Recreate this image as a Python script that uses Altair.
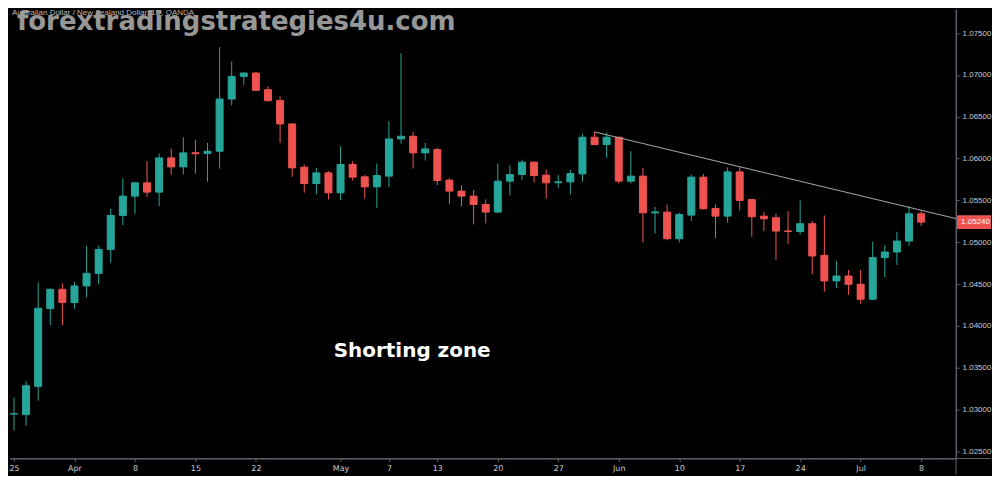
import json
import altair as alt
import pandas as pd

# ---- data (AUD/NZD daily, 25 Mar - 8 Jul) ----
opens = [1.02945, 1.02938, 1.03276, 1.04206, 1.04437, 1.04278, 1.04477, 1.04628, 1.04914, 1.05320,
         1.05551, 1.05710, 1.05599, 1.06008, 1.05901, 1.06070, 1.06062, 1.06088, 1.06712, 1.06983,
         1.07023, 1.06824, 1.06696, 1.06414, 1.05897, 1.05702, 1.05829, 1.05591, 1.05929, 1.05782,
         1.05662, 1.05790, 1.06235, 1.06267, 1.06068, 1.06108, 1.05742, 1.05611, 1.05551, 1.05451,
         1.05360, 1.05730, 1.05809, 1.05957, 1.05802, 1.05712, 1.05722, 1.05817, 1.06255, 1.06167,
         1.06255, 1.05730, 1.05790, 1.05350, 1.05360, 1.05042, 1.05324, 1.05778, 1.05404, 1.05312,
         1.05841, 1.05510, 1.05312, 1.05292, 1.05135, 1.05129, 1.05221, 1.04843, 1.04537, 1.04596,
         1.04497, 1.04318, 1.04815, 1.04883, 1.05014, 1.05340]
highs = [1.03144, 1.03335, 1.04517, 1.04445, 1.04509, 1.04525, 1.04954, 1.04954, 1.05400, 1.05762,
         1.05720, 1.05969, 1.06060, 1.06120, 1.06255, 1.06227, 1.06187, 1.07333, 1.07162, 1.07030,
         1.07035, 1.06864, 1.06744, 1.06420, 1.05929, 1.05889, 1.05849, 1.06148, 1.05969, 1.05802,
         1.05941, 1.06446, 1.07261, 1.06319, 1.06187, 1.06128, 1.05770, 1.05682, 1.05623, 1.05511,
         1.05941, 1.05917, 1.05988, 1.05965, 1.05869, 1.05802, 1.05869, 1.06295, 1.06319, 1.06307,
         1.06262, 1.06088, 1.05889, 1.05420, 1.05451, 1.05352, 1.05809, 1.05817, 1.05451, 1.05897,
         1.05897, 1.05510, 1.05364, 1.05340, 1.05372, 1.05499, 1.05253, 1.05320, 1.04775, 1.04668,
         1.04668, 1.05006, 1.04966, 1.05125, 1.05432, 1.05372]
lows = [1.02747, 1.02806, 1.03105, 1.04008, 1.04008, 1.04206, 1.04338, 1.04497, 1.04755, 1.05205,
        1.05340, 1.05543, 1.05432, 1.05809, 1.05809, 1.05821, 1.05722, 1.05881, 1.06637, 1.06883,
        1.06810, 1.06684, 1.06187, 1.05782, 1.05591, 1.05571, 1.05511, 1.05503, 1.05738, 1.05519,
        1.05412, 1.05658, 1.06179, 1.05881, 1.05977, 1.05682, 1.05459, 1.05432, 1.05213, 1.05225,
        1.05350, 1.05559, 1.05742, 1.05710, 1.05523, 1.05650, 1.05571, 1.05722, 1.06160, 1.06008,
        1.05702, 1.05702, 1.04994, 1.05105, 1.05022, 1.04994, 1.05253, 1.05392, 1.05046, 1.05233,
        1.05380, 1.05066, 1.05133, 1.04787, 1.04982, 1.05093, 1.04616, 1.04409, 1.04449, 1.04370,
        1.04266, 1.04310, 1.04584, 1.04728, 1.04954, 1.05193]
closes = [1.02950, 1.03284, 1.04210, 1.04437, 1.04278, 1.04477, 1.04628, 1.04914, 1.05320, 1.05551,
          1.05710, 1.05599, 1.06008, 1.05901, 1.06068, 1.06058, 1.06088, 1.06712, 1.06983, 1.07023,
          1.06816, 1.06692, 1.06414, 1.05889, 1.05702, 1.05829, 1.05591, 1.05929, 1.05778, 1.05662,
          1.05798, 1.06235, 1.06267, 1.06068, 1.06116, 1.05738, 1.05611, 1.05551, 1.05451, 1.05360,
          1.05730, 1.05809, 1.05957, 1.05798, 1.05710, 1.05722, 1.05821, 1.06255, 1.06167, 1.06255,
          1.05730, 1.05790, 1.05352, 1.05362, 1.05042, 1.05332, 1.05778, 1.05400, 1.05312, 1.05841,
          1.05499, 1.05304, 1.05280, 1.05133, 1.05128, 1.05221, 1.04835, 1.04537, 1.04596, 1.04497,
          1.04318, 1.04815, 1.04883, 1.05014, 1.05340, 1.05240]

tick_idx = [0, 5, 10, 15, 20, 27, 31, 35, 40, 45, 50, 55, 60, 65, 70, 75]
tick_labels = ["25", "Apr", "8", "15", "22", "May", "7", "13", "20", "27",
               "Jun", "10", "17", "24", "Jul", "8"]
price_ticks = [1.025, 1.030, 1.035, 1.040, 1.045, 1.050, 1.055, 1.060, 1.065, 1.070, 1.075]

trend_idx = [48, 77.89]
trend_price = [1.06319, 1.05282]
last_price = [1.05240]

symbol_text = ["Australian Dollar / New Zealand Dollar, 1D, OANDA"]
watermark_text = ["forextradingstrategies4u.com"]
zone_text = ["Shorting zone"]

# ---- styling ----
GREEN = "#26a69a"
RED = "#ef5350"
GRAY = "#5d606b"
LABEL = "#c9cbd1"
W, H = 948, 450

df = pd.DataFrame({"i": list(range(len(opens))), "open": opens, "high": highs,
                   "low": lows, "close": closes})

xscale = alt.Scale(domain=[-0.33, 77.89], nice=False, zero=False, padding=0)
yscale = alt.Scale(domain=[1.02413, 1.07783], nice=False, zero=False, padding=0)

label_expr = "{}[indexof({}, datum.value)]".format(json.dumps(tick_labels), json.dumps(tick_idx))
x_axis = alt.Axis(values=tick_idx, labelExpr=label_expr, grid=False, domainColor=GRAY,
                  tickColor=GRAY, tickSize=3, labelColor=LABEL, labelFontSize=8,
                  labelFont="DejaVu Sans", labelPadding=3, title=None)
y_axis = alt.Axis(orient="right", values=price_ticks, format=".5f", grid=False,
                  domainColor=GRAY, tickColor=GRAY, tickSize=3, labelColor=LABEL,
                  labelFontSize=8, labelFont="Liberation Sans", labelPadding=3, title=None)

col = alt.condition("datum.open <= datum.close", alt.value(GREEN), alt.value(RED))

base = alt.Chart(df)
wicks = base.mark_rule(strokeWidth=1).encode(
    x=alt.X("i:Q", scale=xscale, axis=x_axis),
    y=alt.Y("low:Q", scale=yscale, axis=y_axis),
    y2="high:Q",
    color=col,
)
bodies = base.mark_bar(size=7, strokeWidth=1).encode(
    x=alt.X("i:Q", scale=xscale, axis=x_axis),
    y=alt.Y("open:Q", scale=yscale, axis=y_axis),
    y2="close:Q",
    fill=col,
    stroke=col,
)

trend = alt.Chart(pd.DataFrame({"i": trend_idx, "p": trend_price})).mark_line(
    color="#a8a8a8", strokeWidth=1
).encode(
    x=alt.X("i:Q", scale=xscale, axis=x_axis),
    y=alt.Y("p:Q", scale=yscale, axis=y_axis),
)

# extended frame lines (bottom line through the price scale, price-scale line to the bottom)
frame_h = alt.Chart(pd.DataFrame({"k": [0]})).mark_rule(color=GRAY, strokeWidth=1).encode(
    x=alt.value(0), x2=alt.value(W + 35), y=alt.value(H)
)
frame_v = alt.Chart(pd.DataFrame({"k": [0]})).mark_rule(color=GRAY, strokeWidth=1).encode(
    x=alt.value(W), y=alt.value(0), y2=alt.value(H + 16)
)

lp = pd.DataFrame({"p": last_price})
last_box = alt.Chart(lp).transform_calculate(
    lo="datum.p - 0.00082", hi="datum.p + 0.00082"
).mark_rect(color=RED).encode(
    x=alt.value(W + 1), x2=alt.value(W + 35),
    y=alt.Y("lo:Q", scale=yscale, axis=y_axis), y2="hi:Q",
)
last_txt = alt.Chart(lp).mark_text(
    align="left", baseline="middle", fontSize=8, font="Liberation Sans", color="#ffffff"
).encode(
    x=alt.value(W + 5),
    y=alt.Y("p:Q", scale=yscale, axis=y_axis),
    text=alt.Text("p:Q", format=".5f"),
)

symbol = alt.Chart(pd.DataFrame({"t": symbol_text})).mark_text(
    align="left", baseline="top", fontSize=8, font="Liberation Sans", color="#b8b8b8"
).encode(x=alt.value(2), y=alt.value(0), text="t:N")

watermark = alt.Chart(pd.DataFrame({"t": watermark_text})).mark_text(
    align="left", baseline="alphabetic", fontSize=26, font="DejaVu Sans",
    fontWeight="bold", color="#a0a0a0", opacity=0.95
).encode(x=alt.value(7), y=alt.value(21), text="t:N")

zone = alt.Chart(pd.DataFrame({"t": zone_text})).mark_text(
    align="center", baseline="middle", fontSize=20, font="DejaVu Sans",
    fontWeight="bold", color="#ffffff"
).encode(x=alt.value(403), y=alt.value(342), text="t:N")

chart = alt.layer(
    frame_h, frame_v, wicks, bodies, trend, last_box, last_txt, symbol, watermark, zone
).properties(
    width=W, height=H, padding=0, background="#000000"
).configure_view(strokeWidth=0)

chart.save("out.html", embed_options={"renderer": "svg", "actions": False})
